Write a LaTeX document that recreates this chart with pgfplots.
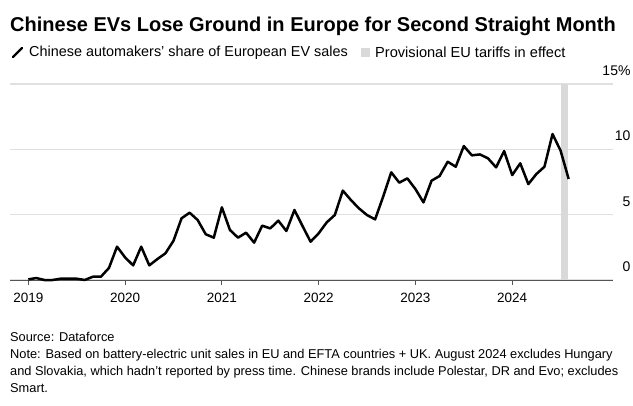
\documentclass[border=0pt]{standalone}
\usepackage{fontspec}
\setmainfont{Liberation Sans}
\usepackage{pgfplots}
\pgfplotsset{compat=1.18}
\definecolor{gridc}{HTML}{E0E0E0}
\definecolor{bandc}{HTML}{D9D9D9}
\definecolor{axisc}{HTML}{555555}
\begin{document}
\begin{tikzpicture}[x=1bp,y=1bp]
\useasboundingbox (0,0) rectangle (633,405);
\node[anchor=west, inner sep=0, font=\bfseries\fontsize{20bp}{22bp}\selectfont] at (10,379) {Chinese EVs Lose Ground in Europe for Second Straight Month};
\draw[line width=2.2bp, line cap=round] (13,348) -- (22,357);
\node[anchor=west, inner sep=0, font=\fontsize{14.4bp}{16bp}\selectfont] at (29,352.5) {Chinese automakers' share of European EV sales};
\fill[bandc] (361,348) rectangle (370,357);
\node[anchor=west, inner sep=0, font=\fontsize{14.6bp}{16bp}\selectfont] at (375,352.5) {Provisional EU tariffs in effect};
\begin{axis}[
  at={(10bp,125bp)}, anchor=south west,
  scale only axis, width=603bp, height=196bp,
  xmin=-2.27, xmax=72.5, ymin=0, ymax=15,
  axis line style={draw=none},
  axis x line*=bottom,
  xtick={0,12,24,36,48,60},
  xticklabels={2019,2020,2021,2022,2023,2024},
  x tick label style={font=\fontsize{13.5bp}{15bp}\selectfont, yshift=-5bp},
  tick align=outside,
  major tick length=5bp,
  xtick style={draw=axisc, line width=0.8bp},
  ytick={0,5,10,15},
  yticklabels={0,5,10,15\%},
  ytick style={draw=none},
  yticklabel pos=right,
  y tick label style={font=\fontsize{14bp}{15bp}\selectfont, anchor=south east, xshift=16bp, yshift=5bp},
  ymajorgrids, grid style={draw=gridc, line width=1.3bp},
  /pgf/number format/assume math mode=true,
  clip=false,
]
\addplot[fill=bandc, draw=none] coordinates {(66,0) (66,15) (66.95,15) (66.95,0)} -- cycle;
\draw[axisc, line width=0.9bp] (axis cs:-2.27,0) -- (axis cs:72.5,0);
\addplot[black, line width=2.5bp, line join=round, no marks] coordinates {
(0,0.05) (1,0.15) (2,0) (3,0) (4,0.1) (5,0.1) (6,0.1) (7,0.0) (8,0.25) (9,0.25) (10,0.92) (11,2.55)
(12,1.73) (13,1.12) (14,2.55) (15,1.12) (16,1.6) (17,2.04) (18,3.0) (19,4.72) (20,5.15) (21,4.59) (22,3.5) (23,3.24)
(24,5.56) (25,3.83) (26,3.24) (27,3.62) (28,2.86) (29,4.16) (30,3.95) (31,4.54) (32,3.75) (33,5.36) (34,4.13) (35,2.93)
(36,3.57) (37,4.41) (38,4.97) (39,6.84) (40,6.12) (41,5.48) (42,4.97) (43,4.64) (44,6.38) (45,8.24) (46,7.45) (47,7.78)
(48,6.96) (49,5.94) (50,7.6) (51,7.96) (52,9.05) (53,8.67) (54,10.25) (55,9.54) (56,9.61) (57,9.31) (58,8.62) (59,9.87)
(60,8.03) (61,8.93) (62,7.34) (63,8.11) (64,8.67) (65,11.17) (66,9.9) (67,7.73)
};
\end{axis}
\node[anchor=north west, inner sep=0, align=left, font=\fontsize{12.8bp}{17bp}\selectfont] at (10,73) {Source: Dataforce\\Note: Based on battery-electric unit sales in EU and EFTA countries + UK. August 2024 excludes Hungary\\and Slovakia, which hadn't reported by press time. Chinese brands include Polestar, DR and Evo; excludes\\Smart.};
\end{tikzpicture}
\end{document}
